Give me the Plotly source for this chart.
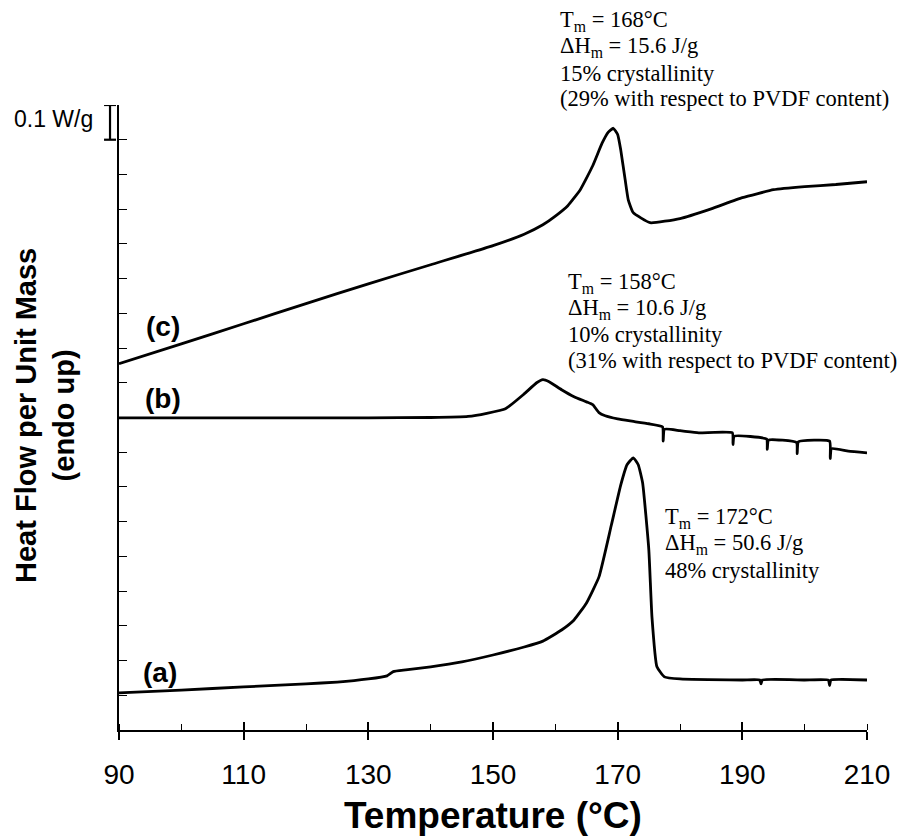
import plotly.graph_objects as go

# ---------------- data (Heat flow per unit mass, W/g, offset curves) ----------------
temp_a = [90, 100, 110, 120, 125, 130, 133, 134, 136, 140, 145, 150, 155, 158, 161, 163, 165, 167,
          169, 170.5, 171.5, 172.5, 173.3, 174, 175, 175.5, 176.3, 177.5, 180, 190, 192.8, 193,
          193.2, 200, 203.8, 204, 204.2, 210]
flow_a = [0.107, 0.115, 0.124, 0.133, 0.138, 0.147, 0.156, 0.168, 0.173, 0.182, 0.196, 0.216, 0.239,
          0.256, 0.288, 0.317, 0.366, 0.441, 0.591, 0.706, 0.764, 0.784, 0.764, 0.712, 0.519, 0.326,
          0.182, 0.153, 0.147, 0.144, 0.144, 0.133, 0.144, 0.144, 0.144, 0.128, 0.144, 0.144]

temp_b = [90, 100, 110, 120, 130, 140, 146, 149, 152, 155, 157, 158, 159, 161, 163, 165, 166, 167,
          168, 170, 172, 175, 177.2, 177.3, 177.5, 180, 183, 188.4, 188.5, 188.7, 193.9, 194, 194.2,
          198.7, 198.8, 199.0, 204.0, 204.1, 204.3, 207, 210]
flow_b = [0.899, 0.899, 0.899, 0.899, 0.899, 0.900, 0.903, 0.912, 0.925, 0.968, 1.000, 1.009, 1.003,
          0.980, 0.960, 0.945, 0.937, 0.914, 0.905, 0.896, 0.890, 0.882, 0.873, 0.832, 0.866, 0.862,
          0.856, 0.856, 0.822, 0.846, 0.838, 0.808, 0.835, 0.828, 0.796, 0.830, 0.832, 0.782, 0.810,
          0.803, 0.798]

temp_c = [90, 100, 110, 120, 130, 140, 150, 155, 158, 160, 162, 164, 166, 167.5, 168.5, 169.3, 170,
          170.5, 171.2, 171.7, 172.5, 175.2, 180, 185, 190, 195, 200, 205, 210]
flow_c = [1.055, 1.112, 1.170, 1.228, 1.285, 1.340, 1.395, 1.428, 1.455, 1.480, 1.510, 1.556, 1.625,
          1.690, 1.722, 1.733, 1.715, 1.670, 1.585, 1.527, 1.490, 1.461, 1.473, 1.501, 1.533, 1.556,
          1.565, 1.571, 1.579]

x_ticks = [90, 110, 130, 150, 170, 190, 210]
x_tick_labels = ["90", "110", "130", "150", "170", "190", "210"]
curve_labels = ["(a)", "(b)", "(c)"]
label_pos_x = [96.6, 97.1, 97.1]
label_pos_y = [0.167, 0.956, 1.161]

# annotation blocks (first block sits above the plotting area -> paper coordinates)
top_note = ["T<sub>m</sub> = 168°C", "ΔH<sub>m</sub> = 15.6 J/g", "15% crystallinity",
            "(29% with respect to PVDF content)"]
top_note_x = 160.4
top_note_y = [1.1344, 1.0928, 1.0512, 1.0096]

data_notes = [
    ["T<sub>m</sub> = 158°C", "ΔH<sub>m</sub> = 10.6 J/g", "10% crystallinity",
     "(31% with respect to PVDF content)"],
    ["T<sub>m</sub> = 172°C", "ΔH<sub>m</sub> = 50.6 J/g", "48% crystallinity"],
]
data_note_x = [161.7, 177.3]
data_note_y = [[1.2874, 1.2126, 1.1377, 1.0628],
               [0.6106, 0.5357, 0.4608]]

SCALE_BAR = 0.1          # W/g
SCALE_TOP = 1.8
Y_RANGE = [0, 1.8]
X_RANGE = [90, 210]

# ---------------- figure ----------------
fig = go.Figure()
for t, f in [(temp_a, flow_a), (temp_b, flow_b), (temp_c, flow_c)]:
    fig.add_trace(go.Scatter(x=t, y=f, mode="lines",
                             line=dict(color="black", width=2.8, shape="spline", smoothing=0.4),
                             showlegend=False, hoverinfo="skip"))

# invisible trace on overlay axis so the second x axis (upper half of major ticks) is drawn
fig.add_trace(go.Scatter(x=X_RANGE, y=Y_RANGE, xaxis="x2", mode="markers",
                         marker=dict(opacity=0), showlegend=False, hoverinfo="skip"))

sans = "Liberation Sans, Arial, sans-serif"
serif = "Liberation Serif, Times New Roman, serif"
note_font = dict(family=serif, size=22.5, color="black")

for lab, lx, ly in zip(curve_labels, label_pos_x, label_pos_y):
    fig.add_annotation(x=lx, y=ly, text=f"<b>{lab}</b>", showarrow=False,
                       font=dict(family=sans, size=28, color="black"),
                       xanchor="center", yanchor="middle")

for txt, ny in zip(top_note, top_note_y):
    fig.add_annotation(x=top_note_x, xref="x", y=ny, yref="paper", text=txt, showarrow=False,
                       align="left", font=note_font, xanchor="left", yanchor="middle")

for lines, nx, ys in zip(data_notes, data_note_x, data_note_y):
    for txt, ny in zip(lines, ys):
        fig.add_annotation(x=nx, y=ny, text=txt, showarrow=False, align="left",
                           font=note_font, xanchor="left", yanchor="middle")

# y-axis title (two lines)
fig.add_annotation(xref="paper", yref="paper", x=-0.099, y=0.504,
                   text="<b>Heat Flow per Unit Mass<br>(endo up)</b>", textangle=-90,
                   showarrow=False, font=dict(family=sans, size=29, color="black"),
                   xanchor="center", yanchor="middle")
# x-axis title
fig.add_annotation(xref="paper", yref="paper", x=0.5, y=-0.136,
                   text="<b>Temperature (°C)</b>", showarrow=False,
                   font=dict(family=sans, size=37, color="black"),
                   xanchor="center", yanchor="middle")

# scale bar: 0.1 W/g
bx = -0.012
fig.add_shape(type="line", xref="paper", yref="y", x0=bx, x1=bx,
              y0=SCALE_TOP - SCALE_BAR, y1=SCALE_TOP, line=dict(color="black", width=2.2))
for yy in (SCALE_TOP - SCALE_BAR, SCALE_TOP):
    fig.add_shape(type="line", xref="paper", yref="y", x0=bx - 0.008, x1=bx + 0.008,
                  y0=yy, y1=yy, line=dict(color="black", width=2.2))
fig.add_annotation(xref="paper", yref="y", x=-0.032, y=SCALE_TOP - SCALE_BAR * 0.4,
                   text="0.1 W/g", showarrow=False,
                   font=dict(family=sans, size=23, color="black"),
                   xanchor="right", yanchor="middle")

# page body has an 8 px margin, so the figure is 8 px smaller and margins are shifted
fig.update_layout(
    width=914, height=831,
    margin=dict(l=111, r=55, t=97, b=109),
    paper_bgcolor="white", plot_bgcolor="white",
    xaxis=dict(range=X_RANGE, tickvals=x_ticks, ticktext=x_tick_labels,
               showline=True, linecolor="black", linewidth=1.5,
               ticks="outside", ticklen=8, tickwidth=1.5, tickcolor="black",
               minor=dict(dtick=10, tick0=90, ticks="inside", ticklen=6,
                          tickwidth=1.2, tickcolor="black"),
               showgrid=False, zeroline=False,
               tickfont=dict(family="Liberation Sans Narrow, Liberation Sans, Arial", size=28,
                             color="black"),
               ticklabelstandoff=11),
    xaxis2=dict(range=X_RANGE, overlaying="x", anchor="y", side="bottom",
                tickvals=x_ticks, ticks="inside", ticklen=8, tickwidth=1.5,
                tickcolor="black", showticklabels=False, showline=False,
                showgrid=False, zeroline=False),
    yaxis=dict(range=Y_RANGE, dtick=0.1, tick0=0, showline=True, linecolor="black",
               linewidth=1.5, ticks="inside", ticklen=8, tickwidth=1.3, tickcolor="black",
               showticklabels=False, showgrid=False, zeroline=False),
)

fig.write_html("out.html")
